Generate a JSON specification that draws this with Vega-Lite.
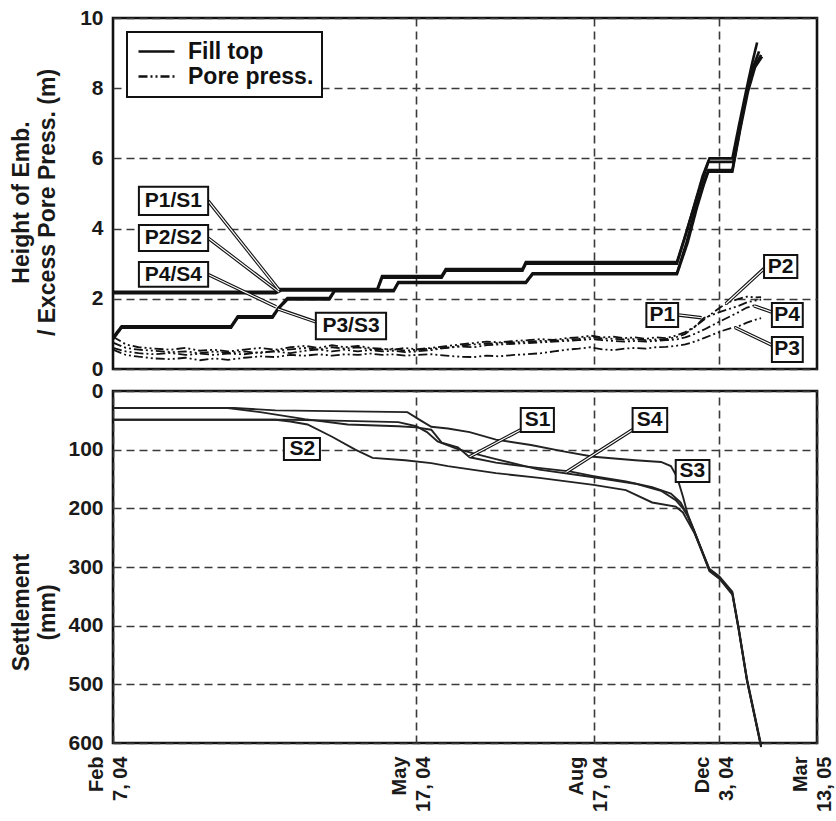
{
"$schema": "https://vega.github.io/schema/vega-lite/v6.json",
"background": "white",
"padding": {"left": 8, "top": 5, "right": 5, "bottom": 5},
"spacing": 22,
"bounds": "flush",
"config": {
  "font": "Liberation Sans",
  "view": {"stroke": "#111", "strokeWidth": 2.6},
  "axis": {"labelFont": "Liberation Sans", "labelFontWeight": "bold", "labelFontSize": 21, "labelColor": "#1a1a1a", "titleFont": "Liberation Sans", "titleFontWeight": "bold", "titleFontSize": 23, "titleColor": "#1a1a1a", "gridColor": "#3a3a3a", "gridDash": [8, 5], "gridWidth": 1.6, "gridOpacity": 1, "domain": false, "ticks": false, "labelFlush": false, "labelOverlap": false, "labelBound": false},
  "legend": {"symbolType": "M-2,0H2", "symbolSize": 324, "symbolStrokeWidth": 2.5, "symbolStrokeColor": "#111", "symbolFillColor": "transparent", "symbolOffset": 10, "labelFont": "Liberation Sans", "labelFontSize": 23, "labelFontWeight": "bold", "labelColor": "#111", "strokeColor": "#111", "strokeWidth": 2, "fillColor": "white", "padding": 8, "rowPadding": 1, "labelOffset": 20, "cornerRadius": 0}
},
"datasets": {
  "fill": [
    {"s":"F1","d":0,"v":2.2},{"s":"F1","d":45,"v":2.2},{"s":"F1","d":46,"v":2.28},{"s":"F1","d":83,"v":2.28},{"s":"F1","d":85,"v":2.65},{"s":"F1","d":112,"v":2.65},{"s":"F1","d":114,"v":2.85},{"s":"F1","d":155,"v":2.85},{"s":"F1","d":157,"v":3.05},{"s":"F1","d":263,"v":3.05},{"s":"F1","d":270,"v":3.8},{"s":"F1","d":278,"v":4.7},{"s":"F1","d":285,"v":5.5},{"s":"F1","d":291,"v":6.0},{"s":"F1","d":312,"v":6.0},{"s":"F1","d":318,"v":6.9},{"s":"F1","d":325,"v":7.9},{"s":"F1","d":331,"v":8.7},{"s":"F1","d":336,"v":9.3},
    {"s":"F2","d":0,"v":2.16},{"s":"F2","d":45,"v":2.16},{"s":"F2","d":47,"v":2.24},{"s":"F2","d":83,"v":2.24},{"s":"F2","d":85,"v":2.6},{"s":"F2","d":112,"v":2.6},{"s":"F2","d":114,"v":2.8},{"s":"F2","d":155,"v":2.8},{"s":"F2","d":157,"v":3.0},{"s":"F2","d":263,"v":3.0},{"s":"F2","d":271,"v":3.9},{"s":"F2","d":279,"v":4.8},{"s":"F2","d":285,"v":5.4},{"s":"F2","d":290,"v":5.9},{"s":"F2","d":313,"v":5.9},{"s":"F2","d":319,"v":6.9},{"s":"F2","d":326,"v":7.9},{"s":"F2","d":332,"v":8.6},{"s":"F2","d":338,"v":9.05},
    {"s":"F3","d":0,"v":0.9},{"s":"F3","d":2,"v":1.22},{"s":"F3","d":31,"v":1.22},{"s":"F3","d":33,"v":1.5},{"s":"F3","d":44,"v":1.5},{"s":"F3","d":46,"v":1.75},{"s":"F3","d":49,"v":2.02},{"s":"F3","d":64,"v":2.02},{"s":"F3","d":66,"v":2.25},{"s":"F3","d":90,"v":2.25},{"s":"F3","d":92,"v":2.48},{"s":"F3","d":157,"v":2.48},{"s":"F3","d":161,"v":2.73},{"s":"F3","d":263,"v":2.73},{"s":"F3","d":271,"v":3.6},{"s":"F3","d":279,"v":4.6},{"s":"F3","d":286,"v":5.3},{"s":"F3","d":290,"v":5.67},{"s":"F3","d":312,"v":5.67},{"s":"F3","d":319,"v":6.8},{"s":"F3","d":326,"v":7.9},{"s":"F3","d":333,"v":8.6},{"s":"F3","d":340,"v":8.95},
    {"s":"F4","d":0,"v":0.85},{"s":"F4","d":2,"v":1.18},{"s":"F4","d":31,"v":1.18},{"s":"F4","d":33,"v":1.46},{"s":"F4","d":44,"v":1.46},{"s":"F4","d":46,"v":1.72},{"s":"F4","d":49,"v":1.98},{"s":"F4","d":64,"v":1.98},{"s":"F4","d":66,"v":2.22},{"s":"F4","d":90,"v":2.22},{"s":"F4","d":92,"v":2.45},{"s":"F4","d":157,"v":2.45},{"s":"F4","d":161,"v":2.7},{"s":"F4","d":263,"v":2.7},{"s":"F4","d":272,"v":3.6},{"s":"F4","d":280,"v":4.6},{"s":"F4","d":286,"v":5.25},{"s":"F4","d":290,"v":5.62},{"s":"F4","d":312,"v":5.62},{"s":"F4","d":320,"v":6.9},{"s":"F4","d":327,"v":7.9},{"s":"F4","d":334,"v":8.6},{"s":"F4","d":341,"v":8.9}
  ],
  "pore": [
    {"d":0,"P1":0.75,"P2":0.92,"P3":0.55,"P4":0.6},
    {"d":3,"P1":0.6,"P2":0.7,"P3":0.4,"P4":0.5},
    {"d":6,"P1":0.55,"P2":0.62,"P3":0.35,"P4":0.45},
    {"d":10,"P1":0.52,"P2":0.58,"P3":0.3,"P4":0.42},
    {"d":14,"P1":0.48,"P2":0.55,"P3":0.28,"P4":0.46},
    {"d":18,"P1":0.5,"P2":0.6,"P3":0.32,"P4":0.4},
    {"d":22,"P1":0.45,"P2":0.52,"P3":0.25,"P4":0.44},
    {"d":26,"P1":0.5,"P2":0.55,"P3":0.3,"P4":0.4},
    {"d":30,"P1":0.46,"P2":0.5,"P3":0.26,"P4":0.44},
    {"d":35,"P1":0.5,"P2":0.55,"P3":0.32,"P4":0.42},
    {"d":40,"P1":0.45,"P2":0.6,"P3":0.36,"P4":0.48},
    {"d":45,"P1":0.52,"P2":0.55,"P3":0.34,"P4":0.5},
    {"d":50,"P1":0.56,"P2":0.62,"P3":0.4,"P4":0.45},
    {"d":55,"P1":0.6,"P2":0.66,"P3":0.38,"P4":0.52},
    {"d":60,"P1":0.55,"P2":0.6,"P3":0.42,"P4":0.56},
    {"d":65,"P1":0.62,"P2":0.68,"P3":0.38,"P4":0.5},
    {"d":70,"P1":0.58,"P2":0.62,"P3":0.42,"P4":0.55},
    {"d":75,"P1":0.62,"P2":0.66,"P3":0.4,"P4":0.5},
    {"d":80,"P1":0.56,"P2":0.6,"P3":0.44,"P4":0.54},
    {"d":85,"P1":0.55,"P2":0.58,"P3":0.4,"P4":0.5},
    {"d":90,"P1":0.58,"P2":0.55,"P3":0.42,"P4":0.52},
    {"d":95,"P1":0.52,"P2":0.6,"P3":0.38,"P4":0.48},
    {"d":100,"P1":0.55,"P2":0.56,"P3":0.4,"P4":0.5},
    {"d":107,"P1":0.58,"P2":0.6,"P3":0.42,"P4":0.54},
    {"d":114,"P1":0.6,"P2":0.65,"P3":0.38,"P4":0.6},
    {"d":121,"P1":0.66,"P2":0.7,"P3":0.35,"P4":0.64},
    {"d":128,"P1":0.7,"P2":0.74,"P3":0.34,"P4":0.62},
    {"d":135,"P1":0.72,"P2":0.78,"P3":0.38,"P4":0.68},
    {"d":142,"P1":0.74,"P2":0.76,"P3":0.36,"P4":0.7},
    {"d":150,"P1":0.76,"P2":0.8,"P3":0.4,"P4":0.72},
    {"d":158,"P1":0.78,"P2":0.82,"P3":0.42,"P4":0.74},
    {"d":166,"P1":0.8,"P2":0.85,"P3":0.45,"P4":0.76},
    {"d":174,"P1":0.8,"P2":0.83,"P3":0.5,"P4":0.78},
    {"d":182,"P1":0.84,"P2":0.88,"P3":0.55,"P4":0.8},
    {"d":190,"P1":0.86,"P2":0.9,"P3":0.58,"P4":0.82},
    {"d":198,"P1":0.9,"P2":0.95,"P3":0.62,"P4":0.85},
    {"d":206,"P1":0.87,"P2":0.9,"P3":0.56,"P4":0.82},
    {"d":214,"P1":0.86,"P2":0.92,"P3":0.54,"P4":0.8},
    {"d":222,"P1":0.84,"P2":0.88,"P3":0.58,"P4":0.78},
    {"d":230,"P1":0.85,"P2":0.9,"P3":0.6,"P4":0.8},
    {"d":238,"P1":0.82,"P2":0.86,"P3":0.58,"P4":0.78},
    {"d":246,"P1":0.84,"P2":0.9,"P3":0.62,"P4":0.8},
    {"d":254,"P1":0.85,"P2":0.88,"P3":0.63,"P4":0.82},
    {"d":262,"P1":0.9,"P2":0.95,"P3":0.66,"P4":0.84},
    {"d":270,"P1":1.0,"P2":1.05,"P3":0.7,"P4":0.9},
    {"d":278,"P1":1.2,"P2":1.2,"P3":0.78,"P4":1.0},
    {"d":286,"P1":1.45,"P2":1.4,"P3":0.88,"P4":1.12},
    {"d":294,"P1":1.55,"P2":1.6,"P3":0.98,"P4":1.25},
    {"d":302,"P1":1.64,"P2":1.78,"P3":1.08,"P4":1.38},
    {"d":310,"P1":1.72,"P2":1.92,"P3":1.16,"P4":1.5},
    {"d":318,"P1":1.8,"P2":2.0,"P3":1.22,"P4":1.62},
    {"d":326,"P1":1.9,"P2":2.06,"P3":1.32,"P4":1.75},
    {"d":334,"P1":1.95,"P2":2.04,"P3":1.4,"P4":1.82},
    {"d":340,"P1":1.98,"P2":2.05,"P3":1.45,"P4":1.72}
  ],
  "settle": [
    {"s":"S3","d":0,"v":29},{"s":"S3","d":32,"v":29},{"s":"S3","d":45,"v":33},{"s":"S3","d":96,"v":36},{"s":"S3","d":102,"v":50},{"s":"S3","d":107,"v":61},{"s":"S3","d":115,"v":64},{"s":"S3","d":126,"v":70},{"s":"S3","d":140,"v":83},{"s":"S3","d":160,"v":92},{"s":"S3","d":180,"v":103},{"s":"S3","d":200,"v":112},{"s":"S3","d":230,"v":118},{"s":"S3","d":250,"v":121},{"s":"S3","d":258,"v":128},{"s":"S3","d":263,"v":146},{"s":"S3","d":268,"v":180},{"s":"S3","d":272,"v":210},{"s":"S3","d":278,"v":240},{"s":"S3","d":291,"v":305},{"s":"S3","d":300,"v":318},{"s":"S3","d":312,"v":344},{"s":"S3","d":318,"v":405},{"s":"S3","d":326,"v":492},{"s":"S3","d":340,"v":605},
    {"s":"S1","d":0,"v":29},{"s":"S1","d":30,"v":29},{"s":"S1","d":40,"v":36},{"s":"S1","d":55,"v":48},{"s":"S1","d":71,"v":57},{"s":"S1","d":92,"v":60},{"s":"S1","d":100,"v":62},{"s":"S1","d":107,"v":66},{"s":"S1","d":112,"v":88},{"s":"S1","d":120,"v":96},{"s":"S1","d":126,"v":113},{"s":"S1","d":140,"v":122},{"s":"S1","d":155,"v":128},{"s":"S1","d":184,"v":137},{"s":"S1","d":200,"v":145},{"s":"S1","d":223,"v":154},{"s":"S1","d":243,"v":164},{"s":"S1","d":258,"v":175},{"s":"S1","d":266,"v":190},{"s":"S1","d":272,"v":212},{"s":"S1","d":278,"v":240},{"s":"S1","d":291,"v":307},{"s":"S1","d":300,"v":320},{"s":"S1","d":312,"v":347},{"s":"S1","d":318,"v":407},{"s":"S1","d":326,"v":494},{"s":"S1","d":340,"v":607},
    {"s":"S4","d":0,"v":49},{"s":"S4","d":50,"v":49},{"s":"S4","d":70,"v":51},{"s":"S4","d":92,"v":53},{"s":"S4","d":100,"v":60},{"s":"S4","d":105,"v":70},{"s":"S4","d":110,"v":86},{"s":"S4","d":120,"v":99},{"s":"S4","d":130,"v":108},{"s":"S4","d":140,"v":116},{"s":"S4","d":165,"v":134},{"s":"S4","d":200,"v":147},{"s":"S4","d":230,"v":158},{"s":"S4","d":250,"v":170},{"s":"S4","d":262,"v":186},{"s":"S4","d":268,"v":200},{"s":"S4","d":272,"v":213},{"s":"S4","d":278,"v":242},{"s":"S4","d":291,"v":303},{"s":"S4","d":300,"v":316},{"s":"S4","d":312,"v":342},{"s":"S4","d":318,"v":403},{"s":"S4","d":326,"v":490},{"s":"S4","d":340,"v":603},
    {"s":"S2","d":0,"v":49},{"s":"S2","d":45,"v":49},{"s":"S2","d":50,"v":52},{"s":"S2","d":56,"v":57},{"s":"S2","d":65,"v":78},{"s":"S2","d":74,"v":100},{"s":"S2","d":81,"v":114},{"s":"S2","d":95,"v":118},{"s":"S2","d":107,"v":123},{"s":"S2","d":115,"v":128},{"s":"S2","d":140,"v":140},{"s":"S2","d":165,"v":148},{"s":"S2","d":200,"v":160},{"s":"S2","d":223,"v":169},{"s":"S2","d":243,"v":190},{"s":"S2","d":262,"v":197},{"s":"S2","d":268,"v":207},{"s":"S2","d":278,"v":243},{"s":"S2","d":291,"v":306},{"s":"S2","d":300,"v":319},{"s":"S2","d":312,"v":345},{"s":"S2","d":318,"v":406},{"s":"S2","d":326,"v":493},{"s":"S2","d":340,"v":606}
  ],
  "topBox": [
    {"t":"P1/S1","x0":6.1,"x1":24.3,"y0":4.39,"y1":5.19,"tx":14.8,"ty":4.79},
    {"t":"P2/S2","x0":6.1,"x1":24.3,"y0":3.36,"y1":4.1,"tx":14.8,"ty":3.73},
    {"t":"P4/S4","x0":6.1,"x1":24.3,"y0":2.34,"y1":3.05,"tx":14.8,"ty":2.69},
    {"t":"P3/S3","x0":59,"x1":86.7,"y0":0.85,"y1":1.6,"tx":72.3,"ty":1.23},
    {"t":"P1","x0":238.5,"x1":264,"y0":1.2,"y1":1.88,"tx":251,"ty":1.54},
    {"t":"P2","x0":343,"x1":378,"y0":2.59,"y1":3.25,"tx":360,"ty":2.92},
    {"t":"P4","x0":351,"x1":384,"y0":1.2,"y1":1.88,"tx":367,"ty":1.54},
    {"t":"P3","x0":351,"x1":384,"y0":0.2,"y1":0.91,"tx":367,"ty":0.56}
  ],
  "topLead": [
    {"x0":24.3,"x1":46.2,"y0":4.79,"y1":2.25},
    {"x0":24.3,"x1":46.2,"y0":3.73,"y1":2.19},
    {"x0":24.3,"x1":45.2,"y0":2.69,"y1":1.77},
    {"x0":59,"x1":45.8,"y0":1.34,"y1":1.71},
    {"x0":264,"x1":284,"y0":1.54,"y1":1.46},
    {"x0":343,"x1":306,"y0":2.86,"y1":1.86},
    {"x0":351,"x1":333,"y0":1.62,"y1":1.8},
    {"x0":351,"x1":314.5,"y0":0.68,"y1":1.18}
  ],
  "botBox": [
    {"t":"S1","x0":154,"x1":174,"y0":29,"y1":70,"tx":164,"ty":49.5},
    {"t":"S4","x0":228,"x1":255,"y0":29,"y1":70,"tx":241,"ty":49.5},
    {"t":"S3","x0":262,"x1":291,"y0":117.5,"y1":155,"tx":276,"ty":136},
    {"t":"S2","x0":47.8,"x1":60.5,"y0":80,"y1":117.5,"tx":54.2,"ty":99}
  ],
  "botLead": [
    {"x0":154,"x1":126,"y0":66,"y1":112},
    {"x0":228,"x1":182,"y0":66,"y1":138}
  ]
},
"vconcat": [
  {
    "width": 704, "height": 351,
    "layer": [
      {
        "data": {"name": "fill"},
        "mark": {"type": "line", "stroke": "#111", "strokeWidth": 2.6},
        "encoding": {
          "x": {"field": "d", "type": "quantitative", "scale": {"type": "symlog", "constant": 100, "domain": [0, 400], "nice": false, "zero": false}, "axis": {"values": [100, 200, 300], "labels": false, "title": null, "grid": true}},
          "y": {"field": "v", "type": "quantitative", "scale": {"domain": [0, 10], "nice": false}, "axis": {"values": [0, 2, 4, 6, 8, 10], "title": ["Height of Emb.", "/ Excess Pore Press. (m)"], "titleX": -80, "titleY": 184, "titleLineHeight": 26, "labelPadding": 10, "grid": true}},
          "detail": {"field": "s", "type": "nominal"},
          "strokeDash": {"datum": "Fill top", "type": "nominal", "scale": {"domain": ["Fill top", "Pore press."], "range": [[1, 0], [9, 3, 2, 3, 2, 3]]}, "legend": {"title": null, "orient": "top-left", "offset": 14}}
        }
      },
      {
        "data": {"name": "pore"},
        "transform": [{"fold": ["P1", "P2", "P3", "P4"], "as": ["s", "v"]}],
        "mark": {"type": "line", "stroke": "#111", "strokeWidth": 1.8},
        "encoding": {
          "x": {"field": "d", "type": "quantitative"},
          "y": {"field": "v", "type": "quantitative"},
          "detail": {"field": "s", "type": "nominal"},
          "strokeDash": {"datum": "Pore press.", "type": "nominal"}
        }
      },
      {
        "data": {"name": "topLead"},
        "mark": {"type": "rule", "stroke": "#111", "strokeWidth": 3.4},
        "encoding": {"x": {"field": "x0", "type": "quantitative"}, "x2": {"field": "x1"}, "y": {"field": "y0", "type": "quantitative"}, "y2": {"field": "y1"}}
      },
      {
        "data": {"name": "topLead"},
        "mark": {"type": "rule", "stroke": "white", "strokeWidth": 1.2},
        "encoding": {"x": {"field": "x0", "type": "quantitative"}, "x2": {"field": "x1"}, "y": {"field": "y0", "type": "quantitative"}, "y2": {"field": "y1"}}
      },
      {
        "data": {"name": "topBox"},
        "mark": {"type": "rect", "fill": "white", "stroke": "#111", "strokeWidth": 2},
        "encoding": {"x": {"field": "x0", "type": "quantitative"}, "x2": {"field": "x1"}, "y": {"field": "y0", "type": "quantitative"}, "y2": {"field": "y1"}}
      },
      {
        "data": {"name": "topBox"},
        "mark": {"type": "text", "font": "Liberation Sans", "fontWeight": "bold", "fontSize": 21, "color": "#111", "align": "center", "baseline": "middle"},
        "encoding": {"x": {"field": "tx", "type": "quantitative"}, "y": {"field": "ty", "type": "quantitative"}, "text": {"field": "t", "type": "nominal"}}
      }
    ]
  },
  {
    "width": 704, "height": 352,
    "layer": [
      {
        "data": {"name": "settle"},
        "mark": {"type": "line", "stroke": "#222", "strokeWidth": 1.9},
        "encoding": {
          "x": {"field": "d", "type": "quantitative", "scale": {"type": "symlog", "constant": 100, "domain": [0, 400], "nice": false, "zero": false}, "axis": {"values": [0, 100, 200, 300, 400], "title": null, "grid": true, "labelAngle": -90, "labelAlign": "right", "labelBaseline": "middle", "labelFontSize": 20, "labelPadding": 13, "labelLineHeight": 24, "labelOffset": -17, "labelExpr": "datum.value == 0 ? ['Feb', '7, 04'] : datum.value == 100 ? ['May', '17, 04'] : datum.value == 200 ? ['Aug', '17, 04'] : datum.value == 300 ? ['Dec', '3, 04'] : ['Mar', '13, 05']"}},
          "y": {"field": "v", "type": "quantitative", "scale": {"domain": [0, 600], "reverse": true, "nice": false}, "axis": {"values": [0, 100, 200, 300, 400, 500, 600], "title": ["Settlement", "(mm)"], "titleX": -80, "titleY": 221, "titleLineHeight": 26, "labelPadding": 10, "grid": true}},
          "detail": {"field": "s", "type": "nominal"}
        }
      },
      {
        "data": {"name": "botLead"},
        "mark": {"type": "rule", "stroke": "#111", "strokeWidth": 3.4},
        "encoding": {"x": {"field": "x0", "type": "quantitative"}, "x2": {"field": "x1"}, "y": {"field": "y0", "type": "quantitative"}, "y2": {"field": "y1"}}
      },
      {
        "data": {"name": "botLead"},
        "mark": {"type": "rule", "stroke": "white", "strokeWidth": 1.2},
        "encoding": {"x": {"field": "x0", "type": "quantitative"}, "x2": {"field": "x1"}, "y": {"field": "y0", "type": "quantitative"}, "y2": {"field": "y1"}}
      },
      {
        "data": {"name": "botBox"},
        "mark": {"type": "rect", "fill": "white", "stroke": "#111", "strokeWidth": 2},
        "encoding": {"x": {"field": "x0", "type": "quantitative"}, "x2": {"field": "x1"}, "y": {"field": "y0", "type": "quantitative"}, "y2": {"field": "y1"}}
      },
      {
        "data": {"name": "botBox"},
        "mark": {"type": "text", "font": "Liberation Sans", "fontWeight": "bold", "fontSize": 21, "color": "#111", "align": "center", "baseline": "middle"},
        "encoding": {"x": {"field": "tx", "type": "quantitative"}, "y": {"field": "ty", "type": "quantitative"}, "text": {"field": "t", "type": "nominal"}}
      }
    ]
  }
]
}
